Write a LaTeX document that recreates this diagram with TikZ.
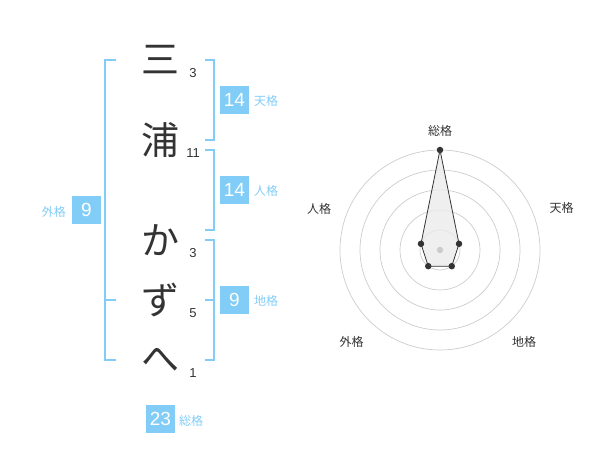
\documentclass[tikz,border=0pt]{standalone}
\usepackage{fontspec}
\setmainfont{Liberation Sans}
\newfontfamily\jp{Noto Sans CJK JP}
\definecolor{kblue}{HTML}{82CDF7}
\definecolor{ktext}{HTML}{333333}
\definecolor{kring}{HTML}{CCCCCC}
\begin{document}
\begin{tikzpicture}[x=1pt,y=-1pt,
  kanji/.style={font=\jp\fontsize{38}{38}\selectfont, text=ktext, inner sep=0},
  strokes/.style={font=\fontsize{13}{13}\selectfont, text=ktext, inner sep=0},
  valbox/.style={fill=kblue, text=white, font=\fontsize{19}{19}\selectfont, minimum width=29pt, minimum height=28pt, inner sep=0},
  vallabel/.style={font=\jp\fontsize{12}{12}\selectfont, text=kblue, inner sep=0},
  bracket/.style={draw=kblue, line width=2pt},
  ring/.style={draw=kring, line width=0.7pt},
  axlabel/.style={font=\jp\fontsize{12}{12}\selectfont, text=ktext, inner sep=0},
  dot/.style={circle, fill=ktext, inner sep=0, minimum size=6.5pt}]
\useasboundingbox (0,0) rectangle (600,470);

% name characters
\node[kanji] (c1) at (160,60) {三};
\node[kanji] (c2) at (160,140) {浦};
\node[kanji] (c3) at (160,240) {か};
\node[kanji] (c4) at (160,300) {ず};
\node[kanji] (c5) at (160,360) {へ};

% stroke counts
\node[strokes] (s1) at (193,73) {3};
\node[strokes] (s2) at (193,153) {11};
\node[strokes] (s3) at (193,253) {3};
\node[strokes] (s4) at (193,313) {5};
\node[strokes] (s5) at (193,373) {1};

% brackets
\draw[bracket] (116,60) -- (105,60) -- (105,360) -- (116,360);
\draw[bracket] (105,300) -- (116,300);
\draw[bracket] (205,60) -- (214,60) -- (214,140) -- (205,140);
\draw[bracket] (205,150) -- (214,150) -- (214,230) -- (205,230);
\draw[bracket] (205,240) -- (214,240) -- (214,360) -- (205,360);
\draw[bracket] (205,300) -- (214,300);

% value boxes
\node[valbox] (ten) at (234.5,100) {14};
\node[vallabel, anchor=west] (tenl) at (254,101) {天格};
\node[valbox] (jin) at (234.5,190) {14};
\node[vallabel, anchor=west] (jinl) at (254,191) {人格};
\node[valbox] (chi) at (234.5,300) {9};
\node[vallabel, anchor=west] (chil) at (254,301) {地格};
\node[valbox] (gai) at (86.5,210) {9};
\node[vallabel, anchor=east] (gail) at (66,212) {外格};
\node[valbox] (sou) at (160.5,419) {23};
\node[vallabel, anchor=west] (soul) at (179,421) {総格};

% radar chart
\begin{scope}[shift={(440,250)}, x=1pt, y=1pt]
  \foreach \r in {20,40,60,80,100} \draw[ring] (0,0) circle (\r);
  \coordinate (rS) at (90:100);
  \coordinate (rT) at (18:20);
  \coordinate (rC) at (-54:20);
  \coordinate (rG) at (-126:20);
  \coordinate (rJ) at (162:20);
  \draw[fill=black!8, fill opacity=0.8, draw=ktext, line width=0.8pt] (rS) -- (rT) -- (rC) -- (rG) -- (rJ) -- cycle;
  \fill[kring] (0,0) circle (3.2);
  \foreach \p in {rS,rT,rC,rG,rJ} \node[dot] at (\p) {};
  \node[axlabel] (aS) at (0,119.5) {総格};
  \node[axlabel] (aT) at (121.7,41.7) {天格};
  \node[axlabel] (aJ) at (-121,41) {人格};
  \node[axlabel] (aG) at (-88.3,-92.3) {外格};
  \node[axlabel] (aC) at (84,-92.3) {地格};
\end{scope}
\end{tikzpicture}
\end{document}
